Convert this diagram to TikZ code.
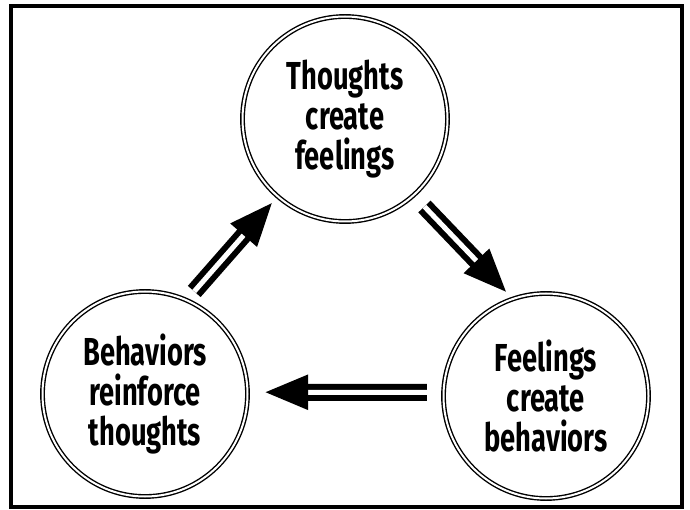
\documentclass[tikz,border=0pt]{standalone}
\usepackage{fontspec}
\setmainfont{Fira Sans}[FakeStretch=0.7]
\usetikzlibrary{arrows.meta}

\begin{document}
\begin{tikzpicture}[x=1pt, y=-1pt,
    stage/.style={circle, draw, double, double distance=2pt, line width=1.4pt,
        minimum size=205pt, inner sep=0pt, align=center,
        font=\bfseries\fontsize{39}{40}\selectfont},
    flow/.style={double, double distance=5pt, line width=6pt,
        -{Triangle[length=43pt, width=34pt]}}]

    % Frame
    \useasboundingbox (0,0) rectangle (690,510);
    \draw[line width=4pt] (11,6) rectangle (682,507);

    %%%% Stages
    \node[stage] (thoughts) at (345,119) {Thoughts\\create\\feelings};
    \node[stage] (feelings) at (546,396) {Feelings\\create\\behaviors};
    \node[stage] (behaviors) at (145,394) {Behaviors\\reinforce\\thoughts};

    %%%% Cycle arrows
    \draw[flow, shorten <=15pt, shorten >=9pt] (thoughts.-48) -- (feelings.109);
    \draw[flow, shorten <=16pt, shorten >=17pt] (feelings.178) -- (behaviors.1);
    \draw[flow, shorten <=11pt, shorten >=8pt] (behaviors.66) -- (thoughts.229);

\end{tikzpicture}
\end{document}
